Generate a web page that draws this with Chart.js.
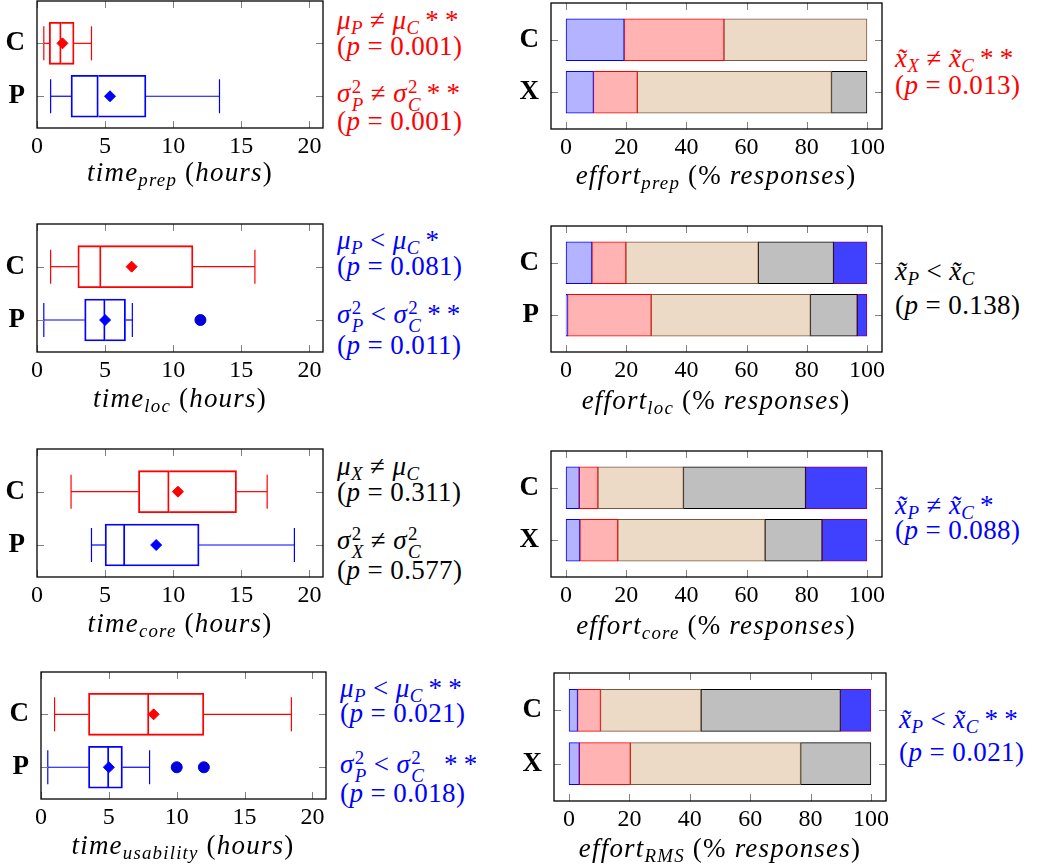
<!DOCTYPE html>
<html>
<head>
<meta charset="utf-8">
<script src="https://cdn.jsdelivr.net/npm/chart.js@4.4.1/dist/chart.umd.min.js"></script>
<style>
  body { margin: 0; background: #fff; width: 1045px; height: 867px; position: relative; overflow: hidden;
         font-family: 'Liberation Serif', serif; }
  canvas { position: absolute; }
  .t { position: absolute; white-space: nowrap; font-size: 27px; letter-spacing: 0.4px; line-height: 1; transform: translateY(-50%); }
  .ax { position: absolute; white-space: nowrap; font-size: 27px; letter-spacing: 1.2px; line-height: 1; transform: translate(-50%, -50%); }
  sub { font-size: 70%; vertical-align: -0.3em; line-height: 0; }
  .ss { display: inline-flex; flex-direction: column; font-size: 70%; line-height: 0.95; vertical-align: 0.45em; margin-left: 1px; }
  .red { color: #ff0000; }
  .blue { color: #0000ff; }
</style>
</head>
<body>
<script>
// row labels (top row first)
const rowsCP = ['C', 'P'];
const rowsCX = ['C', 'X'];

// box statistics: [lower whisker, q1, median, q3, upper whisker]
const prepC = [0.5, 0.9, 1.77, 2.72, 4.0];
const prepP = [1.0, 2.5, 4.5, 8.0, 13.4];
const prepMeans = [1.87, 5.36];
const prepOutliers = [];

const locC = [1.0, 3.0, 4.7, 11.45, 16.0];
const locP = [0.5, 3.5, 5.0, 6.5, 7.0];
const locMeans = [6.95, 5.0];
const locOutliers = [12];

const coreC = [2.5, 7.45, 9.7, 14.65, 16.9];
const coreP = [4.0, 5.0, 6.45, 11.9, 18.9];
const coreMeans = [10.35, 8.75];
const coreOutliers = [];

const usabC = [1.0, 3.5, 7.95, 12.0, 18.45];
const usabP = [0.5, 3.5, 5.0, 6.0, 8.0];
const usabMeans = [8.3, 5.0];
const usabOutliers = [10, 12];

const timeTicks = [0, 5, 10, 15, 20];
const pctTicks = [0, 20, 40, 60, 80, 100];

// effort answers, % of responses per level
const effortLevels = ['very low', 'low', 'medium', 'high', 'very high'];
const effPrepC = [19.3, 33.2, 47.5, 0, 0];
const effPrepX = [9.1, 14.6, 64.5, 11.8, 0];
const effLocC = [8.6, 11.3, 44.0, 25.0, 11.1];
const effLocP = [0.5, 27.8, 52.9, 15.6, 3.2];
const effCoreC = [4.4, 6.2, 28.4, 40.6, 20.4];
const effCoreX = [4.6, 12.6, 48.9, 19.0, 14.9];
const effRmsC = [2.8, 7.6, 33.3, 46.2, 10.1];
const effRmsX = [3.4, 16.9, 56.4, 23.3, 0];

const effortFills = ['#b3b3ff', '#ffb3b3', '#ecd9c6', '#bfbfbf', '#4040ff'];
const effortEdges = ['#0000ff', '#ff0000', '#7a5a3a', '#000000', '#800080'];
const groupColors = ['#ff0000', '#0000ff'];

const FONT = "'Liberation Serif', serif";
// top padding large enough that the y labels never squeeze the scale
const padT = 28, padR = 12, yW = 37, xH = 34;

// inner tick marks + frame, like pgfplots axes
const framePlugin = {
  id: 'frame',
  afterDatasetsDraw(chart) {
    const {ctx, chartArea: a, scales: {x, y}} = chart;
    ctx.save();
    ctx.strokeStyle = '#808080';
    ctx.lineWidth = 1;
    ctx.beginPath();
    x.ticks.forEach(t => {
      const px = Math.round(x.getPixelForValue(t.value)) + 0.5;
      ctx.moveTo(px, a.top); ctx.lineTo(px, a.top + 7);
      ctx.moveTo(px, a.bottom); ctx.lineTo(px, a.bottom - 7);
    });
    y.ticks.forEach(t => {
      const py = Math.round(y.getPixelForValue(t.value)) + 0.5;
      ctx.moveTo(a.left, py); ctx.lineTo(a.left + 7, py);
      ctx.moveTo(a.right, py); ctx.lineTo(a.right - 7, py);
    });
    ctx.stroke();
    ctx.strokeStyle = '#000';
    ctx.lineWidth = 1.3;
    ctx.strokeRect(a.left, a.top, a.right - a.left, a.bottom - a.top);
    ctx.restore();
  }
};

function makeCanvas(box) {
  const c = document.createElement('canvas');
  const w = yW + (box.R - box.L) + padR;
  const h = padT + (box.B - box.T) + xH;
  c.width = w; c.height = h;
  c.style.left = (box.L - yW) + 'px';
  c.style.top = (box.T - padT) + 'px';
  c.style.width = w + 'px'; c.style.height = h + 'px';
  document.body.appendChild(c);
  return c;
}

function baseOptions(rows, xMin, xMax, xTicks, yMin, yMax, stacked) {
  return {
    indexAxis: 'y',
    responsive: false,
    animation: false,
    layout: {autoPadding: false, padding: {top: padT, right: padR, left: 0, bottom: 0}},
    plugins: {legend: {display: false}, tooltip: {enabled: false}},
    scales: {
      x: {
        type: 'linear', min: xMin, max: xMax, bounds: 'data', stacked: stacked, offset: false,
        grid: {display: false}, border: {display: false},
        afterBuildTicks: s => { s.ticks = xTicks.map(v => ({value: v})); },
        afterFit: s => { s.height = xH; },
        ticks: {color: '#000', padding: -4, maxRotation: 0, font: {family: FONT, size: 24}}
      },
      y: {
        type: 'linear', min: yMin, max: yMax, bounds: 'data', stacked: stacked, offset: false,
        grid: {display: false, offset: false}, border: {display: false},
        afterBuildTicks: s => { s.ticks = [{value: 1}, {value: 0}]; },
        afterFit: s => { s.width = yW; },
        ticks: {color: '#000', padding: 4, font: {family: FONT, size: 27, weight: 'bold'},
                callback: v => v === 1 ? rows[0] : rows[1]}
      }
    }
  };
}

function boxChart(box, rows, top, bottom, means, outliers) {
  const stats = [top, bottom];
  const yPos = [1, 0];
  const datasets = [];
  // box drawn as two floating halves, the shared edge is the median
  [[1, 2, false], [2, 3, 'left']].forEach(([a, b, skip]) => {
    datasets.push({
      type: 'bar',
      data: stats.map((s, i) => ({x: [s[a], s[b]], y: yPos[i]})),
      backgroundColor: 'rgba(0,0,0,0)', borderColor: groupColors,
      borderWidth: 1.2, borderSkipped: skip, barThickness: 42, grouped: false
    });
  });
  stats.forEach((s, i) => {
    [[0, 1], [4, 3]].forEach(([a, b]) => {
      datasets.push({
        type: 'line',
        data: [{x: s[a], y: yPos[i]}, {x: s[b], y: yPos[i]}],
        borderColor: groupColors[i], borderWidth: 1.2,
        pointStyle: 'line', pointRotation: 90, pointRadius: [17, 0],
        pointBorderColor: groupColors[i], pointBorderWidth: 1.2
      });
    });
  });
  datasets.push({
    type: 'line', showLine: false,
    data: means.map((m, i) => ({x: m, y: yPos[i]})),
    pointStyle: 'rectRot', pointRadius: 5.5,
    pointBackgroundColor: groupColors, pointBorderColor: groupColors, pointBorderWidth: 1
  });
  datasets.push({
    type: 'line', showLine: false,
    data: outliers.map(v => ({x: v, y: 0})),
    pointStyle: 'circle', pointRadius: 5.5,
    pointBackgroundColor: '#0000dd', pointBorderColor: '#0000dd'
  });
  new Chart(makeCanvas(box), {
    type: 'bar',
    data: {datasets: datasets},
    options: baseOptions(rows, 0, 21, timeTicks, -0.6, 1.8, false),
    plugins: [framePlugin]
  });
}

function effortChart(box, rows, top, bottom) {
  const datasets = effortLevels.map((lvl, k) => ({
    type: 'bar', label: lvl,
    data: [{x: top[k], y: 1}, {x: bottom[k], y: 0}],
    backgroundColor: effortFills[k], borderColor: effortEdges[k],
    borderWidth: 1, borderSkipped: false, barThickness: 42
  }));
  new Chart(makeCanvas(box), {
    type: 'bar',
    data: {datasets: datasets},
    options: baseOptions(rows, -5, 105, pctTicks, -0.7, 1.7, true),
    plugins: [framePlugin]
  });
}

boxChart({L: 37, T: 1, R: 323, B: 128}, rowsCP, prepC, prepP, prepMeans, prepOutliers);
boxChart({L: 37, T: 224, R: 323, B: 352}, rowsCP, locC, locP, locMeans, locOutliers);
boxChart({L: 37, T: 449, R: 323, B: 577}, rowsCP, coreC, coreP, coreMeans, coreOutliers);
boxChart({L: 41, T: 672, R: 326, B: 799}, rowsCP, usabC, usabP, usabMeans, usabOutliers);

effortChart({L: 551, T: 3, R: 882, B: 129}, rowsCX, effPrepC, effPrepX);
effortChart({L: 551, T: 226, R: 882, B: 352}, rowsCP, effLocC, effLocP);
effortChart({L: 551, T: 451, R: 882, B: 577}, rowsCX, effCoreC, effCoreX);
effortChart({L: 554, T: 673, R: 886, B: 801}, rowsCX, effRmsC, effRmsX);

// text: axis titles and test results
function txt(cls, x, y, html) {
  const d = document.createElement('div');
  d.className = cls;
  d.style.left = x + 'px';
  d.style.top = y + 'px';
  d.innerHTML = html;
  document.body.appendChild(d);
}
const ss = (a, b) => '<span class="ss"><span>' + a + '</span><span><i>' + b + '</i></span></span>';
const mu = g => '<i>μ</i><sub><i>' + g + '</i></sub>';
const sg = g => '<i>σ</i>' + ss('2', g);
const xt = g => '<i>x̃</i><sub><i>' + g + '</i></sub>';
const pv = v => '(<i>p</i> = ' + v + ')';
const stars = n => '&thinsp;' + '*&thinsp;'.repeat(n);

txt('ax', 180, 172, '<i>time</i><sub><i>prep</i></sub> (<i>hours</i>)');
txt('ax', 180, 398, '<i>time</i><sub><i>loc</i></sub> (<i>hours</i>)');
txt('ax', 180, 623, '<i>time</i><sub><i>core</i></sub> (<i>hours</i>)');
txt('ax', 183, 845, '<i>time</i><sub><i>usability</i></sub> (<i>hours</i>)');
txt('ax', 716, 175, '<i>effort</i><sub><i>prep</i></sub> (% <i>responses</i>)');
txt('ax', 716, 400, '<i>effort</i><sub><i>loc</i></sub> (% <i>responses</i>)');
txt('ax', 716, 625, '<i>effort</i><sub><i>core</i></sub> (% <i>responses</i>)');
txt('ax', 720, 848, '<i>effort</i><sub><i>RMS</i></sub> (% <i>responses</i>)');

txt('t red', 337, 20, mu('P') + ' ≠ ' + mu('C') + stars(2));
txt('t red', 337, 46, pv('0.001'));
txt('t red', 337, 96, sg('P') + ' ≠ ' + sg('C') + stars(2));
txt('t red', 337, 121, pv('0.001'));

txt('t blue', 337, 240, mu('P') + ' &lt; ' + mu('C') + stars(1));
txt('t blue', 337, 266, pv('0.081'));
txt('t blue', 337, 317, sg('P') + ' &lt; ' + sg('C') + stars(2));
txt('t blue', 337, 345, pv('0.011'));

txt('t', 337, 466, mu('X') + ' ≠ ' + mu('C'));
txt('t', 337, 492, pv('0.311'));
txt('t', 337, 543, sg('X') + ' ≠ ' + sg('C'));
txt('t', 337, 570, pv('0.577'));

txt('t blue', 340, 688, mu('P') + ' &lt; ' + mu('C') + stars(2));
txt('t blue', 340, 713, pv('0.021'));
txt('t blue', 340, 767, sg('P') + ' &lt; ' + sg('C') + '&ensp;' + stars(2));
txt('t blue', 340, 793, pv('0.018'));

txt('t red', 895, 58, xt('X') + ' ≠ ' + xt('C') + stars(2));
txt('t red', 895, 85, pv('0.013'));
txt('t', 895, 271, xt('P') + ' &lt; ' + xt('C'));
txt('t', 895, 305, pv('0.138'));
txt('t blue', 895, 505, xt('P') + ' ≠ ' + xt('C') + stars(1));
txt('t blue', 895, 530, pv('0.088'));
txt('t blue', 899, 719, xt('P') + ' &lt; ' + xt('C') + stars(2));
txt('t blue', 899, 752, pv('0.021'));
</script>
</body>
</html>
